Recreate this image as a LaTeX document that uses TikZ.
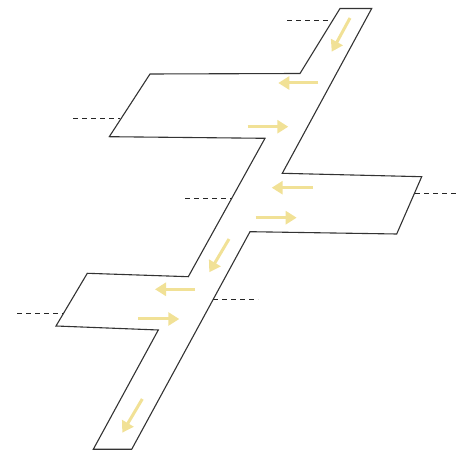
\documentclass[tikz,border=0pt]{standalone}
\usetikzlibrary{arrows.meta}
\definecolor{flow}{RGB}{241,225,150}
\tikzset{
  wall/.style={draw=black!80, line width=1.1pt, line join=miter},
  cut/.style={draw=black!85, line width=0.9pt, dash pattern=on 5pt off 4pt},
  flowarrow/.style={draw=flow, line width=3pt, -{Triangle[length=11pt,width=13pt]}}
}
\begin{document}
\begin{tikzpicture}[x=1pt,y=-1pt]
\useasboundingbox (0,0) rectangle (459,454);
% outline vertices
\coordinate (p1) at (340,8.5);
\coordinate (p2) at (371.7,8.5);
\coordinate (p3) at (282.3,173.3);
\coordinate (p4) at (421.7,176.7);
\coordinate (p5) at (396.7,234);
\coordinate (p6) at (250,231.7);
\coordinate (p7) at (131.7,449.3);
\coordinate (p8) at (93.3,449.3);
\coordinate (p9) at (158.3,330);
\coordinate (p10) at (56,326);
\coordinate (p11) at (87.3,273.3);
\coordinate (p12) at (188.3,276.7);
\coordinate (p13) at (265,138.3);
\coordinate (p14) at (109.3,136.7);
\coordinate (p15) at (150,74);
\coordinate (p16) at (300,73.5);
\draw[wall] (p1) -- (p2) -- (p3) -- (p4) -- (p5) -- (p6) -- (p7) -- (p8) -- (p9) -- (p10) -- (p11) -- (p12) -- (p13) -- (p14) -- (p15) -- (p16) -- cycle;
% dashed section marks
\coordinate (d1a) at (287,20); \coordinate (d1b) at (333,20);
\coordinate (d2a) at (73,118.3); \coordinate (d2b) at (120,118.3);
\coordinate (d3a) at (185,198); \coordinate (d3b) at (232,198);
\coordinate (d4a) at (415,193.3); \coordinate (d4b) at (458,193.3);
\coordinate (d5a) at (17,313); \coordinate (d5b) at (63,313);
\coordinate (d6a) at (213,299.3); \coordinate (d6b) at (258,299.3);
\draw[cut] (d1a) -- (d1b);
\draw[cut] (d2a) -- (d2b);
\draw[cut] (d3a) -- (d3b);
\draw[cut] (d4a) -- (d4b);
\draw[cut] (d5a) -- (d5b);
\draw[cut] (d6a) -- (d6b);
% flow arrows
\coordinate (a1s) at (350,18); \coordinate (a1e) at (331.7,51.7);
\coordinate (a2s) at (318.3,83); \coordinate (a2e) at (278.3,83);
\coordinate (a3s) at (247.7,126.7); \coordinate (a3e) at (288.3,126.7);
\coordinate (a4s) at (313,187.7); \coordinate (a4e) at (271.7,187.7);
\coordinate (a5s) at (255.7,217.7); \coordinate (a5e) at (296.7,217.7);
\coordinate (a6s) at (229,239); \coordinate (a6e) at (209.3,272.3);
\coordinate (a7s) at (195,289.3); \coordinate (a7e) at (155,289.3);
\coordinate (a8s) at (138.3,319); \coordinate (a8e) at (179.3,319);
\coordinate (a9s) at (142.3,399); \coordinate (a9e) at (122.3,432.7);
\foreach \i in {1,...,9} {\draw[flowarrow] (a\i s) -- (a\i e);}
\end{tikzpicture}
\end{document}
